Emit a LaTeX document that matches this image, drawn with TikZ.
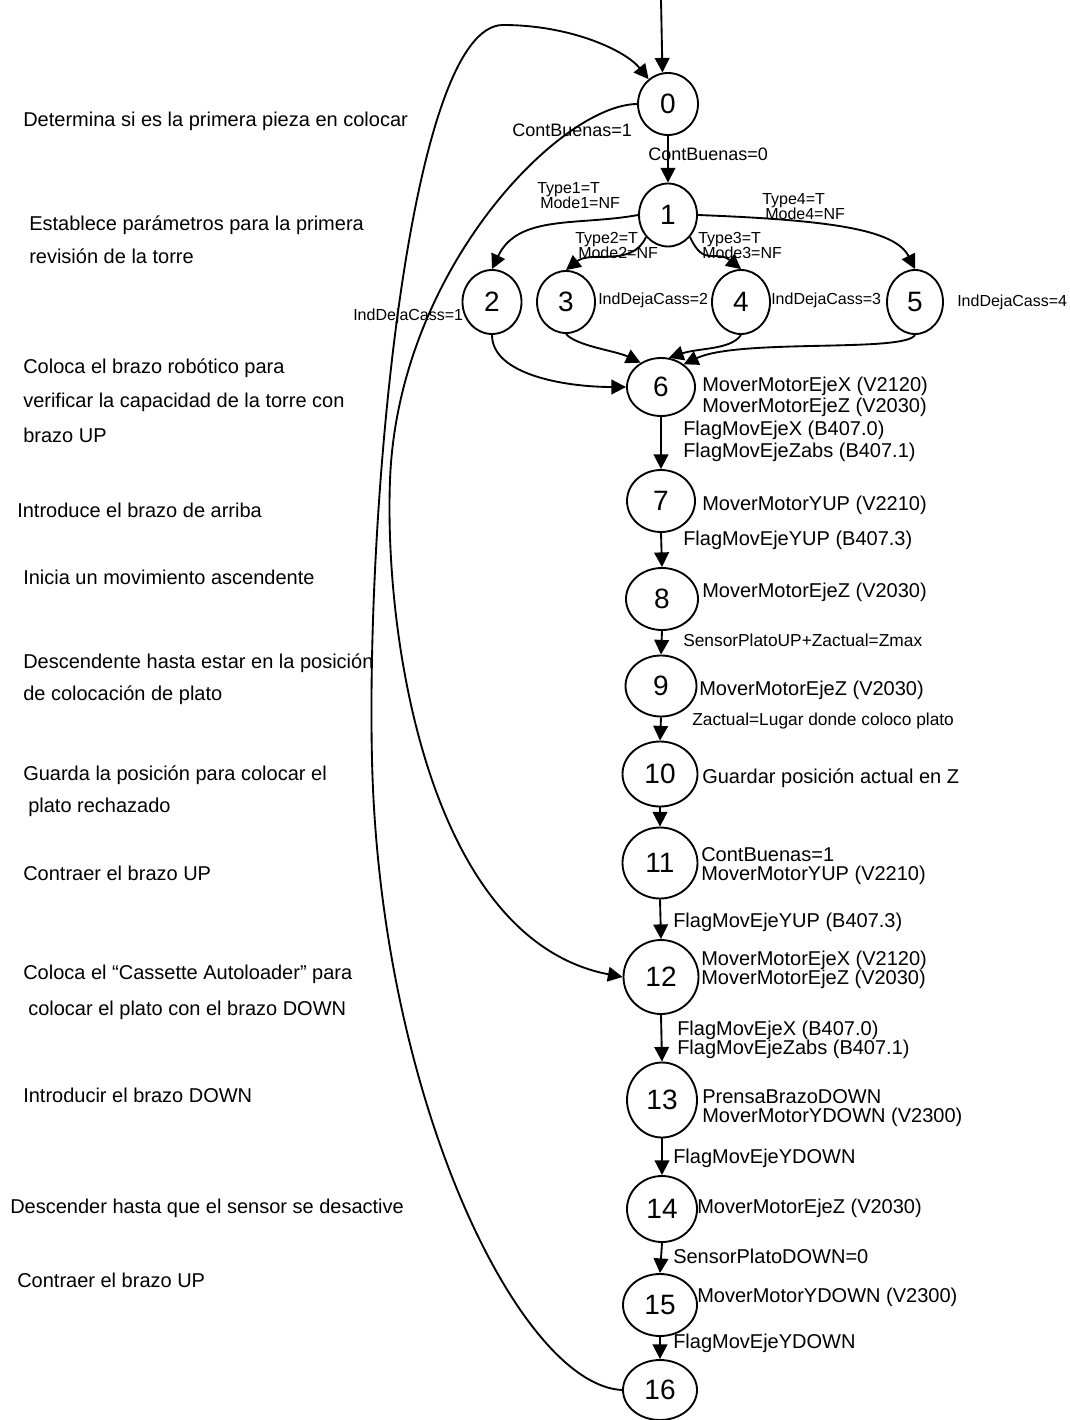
\documentclass[tikz,border=0pt]{standalone}
\usepackage{fontspec}
\setmainfont{Liberation Sans}
\usetikzlibrary{shapes.geometric,arrows.meta}
\newcommand\fbig{\fontsize{15}{18}\selectfont}
\newcommand\fmidsize{\fontsize{13.5}{16}\selectfont}
\newcommand\fsmsize{\fontsize{13}{15}\selectfont}
\newcommand\ftnsize{\fontsize{12}{14}\selectfont}
\begin{document}
\begin{tikzpicture}[x=0.75pt,y=-0.75pt,
  st/.style={ellipse,draw,line width=1.4pt,inner sep=0pt,font=\fontsize{21}{21}\selectfont},
  arr/.style={line width=1.4pt,-{Triangle[length=11pt,width=11pt]}},
  lab/.style={anchor=base west,inner sep=0pt,font=\fbig},
  labm/.style={anchor=base west,inner sep=0pt,font=\fmidsize},
  labs/.style={anchor=base west,inner sep=0pt,font=\fsmsize},
  labt/.style={anchor=base west,inner sep=0pt,font=\ftnsize}]
\path[fill=white,use as bounding box] (0,0) rectangle (1070,1420);

% states
\node[st,minimum width=45pt,minimum height=46.5pt] (n0) at (668,104) {0};
\node[st,minimum width=43.5pt,minimum height=47.25pt] (n1) at (668,215) {1};
\node[st,minimum width=44.25pt,minimum height=48pt] (n2) at (492,302) {2};
\node[st,minimum width=43.5pt,minimum height=46.5pt] (n3) at (566,302) {3};
\node[st,minimum width=43.5pt,minimum height=48pt] (n4) at (741,302) {4};
\node[st,minimum width=42pt,minimum height=48pt] (n5) at (915,302) {5};
\node[st,minimum width=51pt,minimum height=43.5pt] (n6) at (661,387) {6};
\node[st,minimum width=51pt,minimum height=46.5pt] (n7) at (661,501) {7};
\node[st,minimum width=54pt,minimum height=46.5pt] (n8) at (662,599) {8};
\node[st,minimum width=53.25pt,minimum height=45.75pt] (n9) at (661,686) {9};
\node[st,minimum width=56.25pt,minimum height=48.75pt] (n10) at (660,774) {10};
\node[st,minimum width=56.25pt,minimum height=53.25pt] (n11) at (660,863) {11};
\node[st,minimum width=56.25pt,minimum height=55.5pt] (n12) at (661,977) {12};
\node[st,minimum width=52.5pt,minimum height=56.25pt] (n13) at (662,1100) {13};
\node[st,minimum width=52.5pt,minimum height=49.5pt] (n14) at (662,1209) {14};
\node[st,minimum width=55.5pt,minimum height=46.5pt] (n15) at (660,1305) {15};
\node[st,minimum width=55.5pt,minimum height=45pt] (n16) at (660,1390) {16};

% connectors
\coordinate (start) at (661,0);
\draw[arr] (start) -- (n0.100);
\draw[arr] (n0.south) -- (n1.north);
\draw[arr] (n1.west) .. controls +(-60,11) and +(26,-55) .. (n2.north);
\draw[arr] (n1.225) .. controls +(-14,31) and +(25,-20) .. (n3.north);
\draw[arr] (n1.315) .. controls +(14,31) and +(-25,-20) .. (n4.north);
\draw[arr] (n1.east) .. controls +(130,5) and +(-20,-40) .. (n5.north);
\draw[arr] (n2.south) .. controls +(0,40) and +(-60,0) .. (n6.west);
\draw[arr] (n3.south) .. controls +(10,12) and +(-25,-12) .. (n6.130);
\draw[arr] (n4.south) .. controls +(-10,15) and +(30,-10) .. (n6.75);
\draw[arr] (n5.south) .. controls +(-10,18) and +(55,-26) .. (n6.45);
\draw[arr] (n6.south) -- (n7.north);
\draw[arr] (n7.south) -- (n8.north);
\draw[arr] (n8.south) -- (n9.north);
\draw[arr] (n9.south) -- (n10.north);
\draw[arr] (n10.south) -- (n11.north);
\draw[arr] (n11.south) -- (n12.north);
\draw[arr] (n12.south) -- (n13.north);
\draw[arr] (n13.south) -- (n14.north);
\draw[arr] (n14.south) -- (n15.north);
\draw[arr] (n15.south) -- (n16.north);
\draw[arr] (n0.west) .. controls (560,105) and (398,270) .. (390,480)
  .. controls (384,640) and (430,940) .. (n12.west);
\draw[arr] (n16.west) .. controls (520,1385) and (380,1100) .. (372,760)
  .. controls (366,500) and (410,25) .. (503,25)
  .. controls (570,25) and (625,50) .. (n0.128);

% transition / action labels
\node[labm] (t01a) at (512,137) {ContBuenas=1};
\node[labm] (t01b) at (648,160) {ContBuenas=0};
\node[labt] (ty1) at (537,193) {Type1=T};
\node[labt] (mo1) at (540,208) {Mode1=NF};
\node[labt] (ty2) at (575,243) {Type2=T};
\node[labt] (mo2) at (578,258) {Mode2=NF};
\node[labt] (ty3) at (698,243) {Type3=T};
\node[labt] (mo3) at (702,258) {Mode3=NF};
\node[labt] (ty4) at (762,204) {Type4=T};
\node[labt] (mo4) at (765,219) {Mode4=NF};
\node[labt] (id1) at (353,320) {IndDejaCass=1};
\node[labt] (id2) at (598,304) {IndDejaCass=2};
\node[labt] (id3) at (771,304) {IndDejaCass=3};
\node[labt] (id4) at (957,306) {IndDejaCass=4};

\node[lab] (a6a) at (702,391) {MoverMotorEjeX (V2120)};
\node[lab] (a6b) at (702,412) {MoverMotorEjeZ (V2030)};
\node[lab] (c67a) at (683,435) {FlagMovEjeX (B407.0)};
\node[lab] (c67b) at (683,457) {FlagMovEjeZabs (B407.1)};
\node[lab] (a7) at (702,510) {MoverMotorYUP (V2210)};
\node[lab] (c78) at (683,545) {FlagMovEjeYUP (B407.3)};
\node[lab] (a8) at (702,597) {MoverMotorEjeZ (V2030)};
\node[labs] (c89) at (683,646) {SensorPlatoUP+Zactual=Zmax};
\node[lab] (a9) at (699,695) {MoverMotorEjeZ (V2030)};
\node[labs] (c910) at (692,725) {Zactual=Lugar donde coloco plato};
\node[lab] (a10) at (702,783) {Guardar posición actual en Z};
\node[lab] (a11a) at (701,861) {ContBuenas=1};
\node[lab] (a11b) at (701,880) {MoverMotorYUP (V2210)};
\node[lab] (c1112) at (673,927) {FlagMovEjeYUP (B407.3)};
\node[lab] (a12a) at (701,965) {MoverMotorEjeX (V2120)};
\node[lab] (a12b) at (701,984) {MoverMotorEjeZ (V2030)};
\node[lab] (c1213a) at (677,1035) {FlagMovEjeX (B407.0)};
\node[lab] (c1213b) at (677,1054) {FlagMovEjeZabs (B407.1)};
\node[lab] (a13a) at (702,1103) {PrensaBrazoDOWN};
\node[lab] (a13b) at (702,1122) {MoverMotorYDOWN (V2300)};
\node[lab] (c1314) at (673,1163) {FlagMovEjeYDOWN};
\node[lab] (a14) at (697,1213) {MoverMotorEjeZ (V2030)};
\node[lab] (c1415) at (673,1263) {SensorPlatoDOWN=0};
\node[lab] (a15) at (697,1302) {MoverMotorYDOWN (V2300)};
\node[lab] (c1516) at (673,1348) {FlagMovEjeYDOWN};

% left descriptions
\node[lab] (d1) at (23,126) {Determina si es la primera pieza en colocar};
\node[lab] (d2) at (29,230) {Establece parámetros para la primera};
\node[lab] (d3) at (29,263) {revisión de la torre};
\node[lab] (d4) at (23,373) {Coloca el brazo robótico para};
\node[lab] (d5) at (23,407) {verificar la capacidad de la torre con};
\node[lab] (d6) at (23,442) {brazo UP};
\node[lab] (d7) at (17,517) {Introduce el brazo de arriba};
\node[lab] (d8) at (23,584) {Inicia un movimiento ascendente};
\node[lab] (d9) at (23,668) {Descendente hasta estar en la posición};
\node[lab] (d10) at (23,700) {de colocación de plato};
\node[lab] (d11) at (23,780) {Guarda la posición para colocar el};
\node[lab] (d12) at (28,812) {plato rechazado};
\node[lab] (d13) at (23,880) {Contraer el brazo UP};
\node[lab] (d14) at (23,979) {Coloca el “Cassette Autoloader” para};
\node[lab] (d15) at (28,1015) {colocar el plato con el brazo DOWN};
\node[lab] (d16) at (23,1102) {Introducir el brazo DOWN};
\node[lab] (d17) at (10,1213) {Descender hasta que el sensor se desactive};
\node[lab] (d18) at (17,1287) {Contraer el brazo UP};
\end{tikzpicture}
\end{document}
